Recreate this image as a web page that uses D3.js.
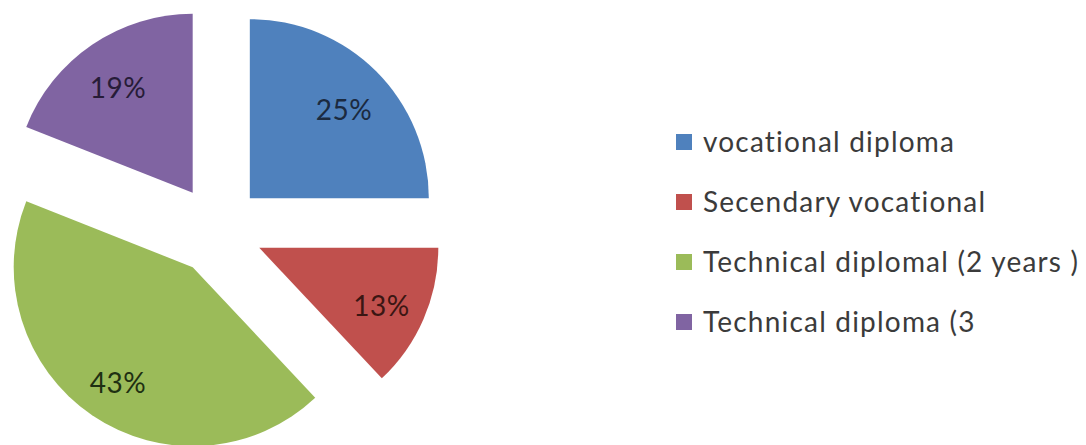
<!DOCTYPE html>
<html>
<head>
<meta charset="utf-8">
<script src="https://cdn.jsdelivr.net/npm/d3@7"></script>
<style>
  html, body { margin: 0; padding: 0; background: #fff; }
  svg { display: block; }
  text { font-variant-ligatures: none; }
</style>
</head>
<body>
<div id="chart"></div>
<script>
// data
const categories = ['vocational diploma', 'Secendary vocational', 'Technical diplomal (2 years )', 'Technical diploma (3'];
const values = [25, 13, 43, 19];
const colors = ['#4f81bd', '#c0504d', '#9bbb59', '#8064a2'];
const labelColors = ['#1b2a40', '#3b1613', '#1f3012', '#271c38'];

const width = 1086, height = 445;
const cx = 218, cy = 230, radius = 179, explode = 45;

const svg = d3.select('#chart').append('svg')
    .attr('width', width)
    .attr('height', height);

const pie = d3.pie().sort(null).value(d => d);
const arcs = pie(values);

const arc = d3.arc().innerRadius(0).outerRadius(radius);
const labelArc = d3.arc().innerRadius(133).outerRadius(133);

// each slice pulled out along its middle angle
const offset = d => {
    const mid = (d.startAngle + d.endAngle) / 2;
    return [Math.sin(mid) * explode, -Math.cos(mid) * explode];
};

const slices = svg.append('g')
    .attr('transform', `translate(${cx},${cy})`)
    .selectAll('g')
    .data(arcs)
    .join('g')
    .attr('transform', d => `translate(${offset(d)})`);

slices.append('path')
    .attr('d', arc)
    .attr('fill', (d, i) => colors[i]);

slices.append('text')
    .attr('transform', d => `translate(${labelArc.centroid(d)})`)
    .attr('text-anchor', 'middle')
    .attr('dy', '0.55em')
    .attr('font-family', 'Lato, "Open Sans", sans-serif')
    .attr('font-size', 28)
    .attr('letter-spacing', 0.5)
    .attr('fill', (d, i) => labelColors[i])
    .text(d => d.data + '%');

// legend
const legend = svg.append('g')
    .selectAll('g')
    .data(categories)
    .join('g')
    .attr('transform', (d, i) => `translate(676,${142 + i * 60})`);

legend.append('rect')
    .attr('x', 0).attr('y', -8)
    .attr('width', 16).attr('height', 16)
    .attr('fill', (d, i) => colors[i]);

legend.append('text')
    .attr('x', 27)
    .attr('dy', '0.36em')
    .attr('font-family', 'Lato, "Open Sans", sans-serif')
    .attr('font-size', 28)
    .attr('letter-spacing', 1.2)
    .attr('fill', '#3b3b3b')
    .text(d => d);
</script>
</body>
</html>
